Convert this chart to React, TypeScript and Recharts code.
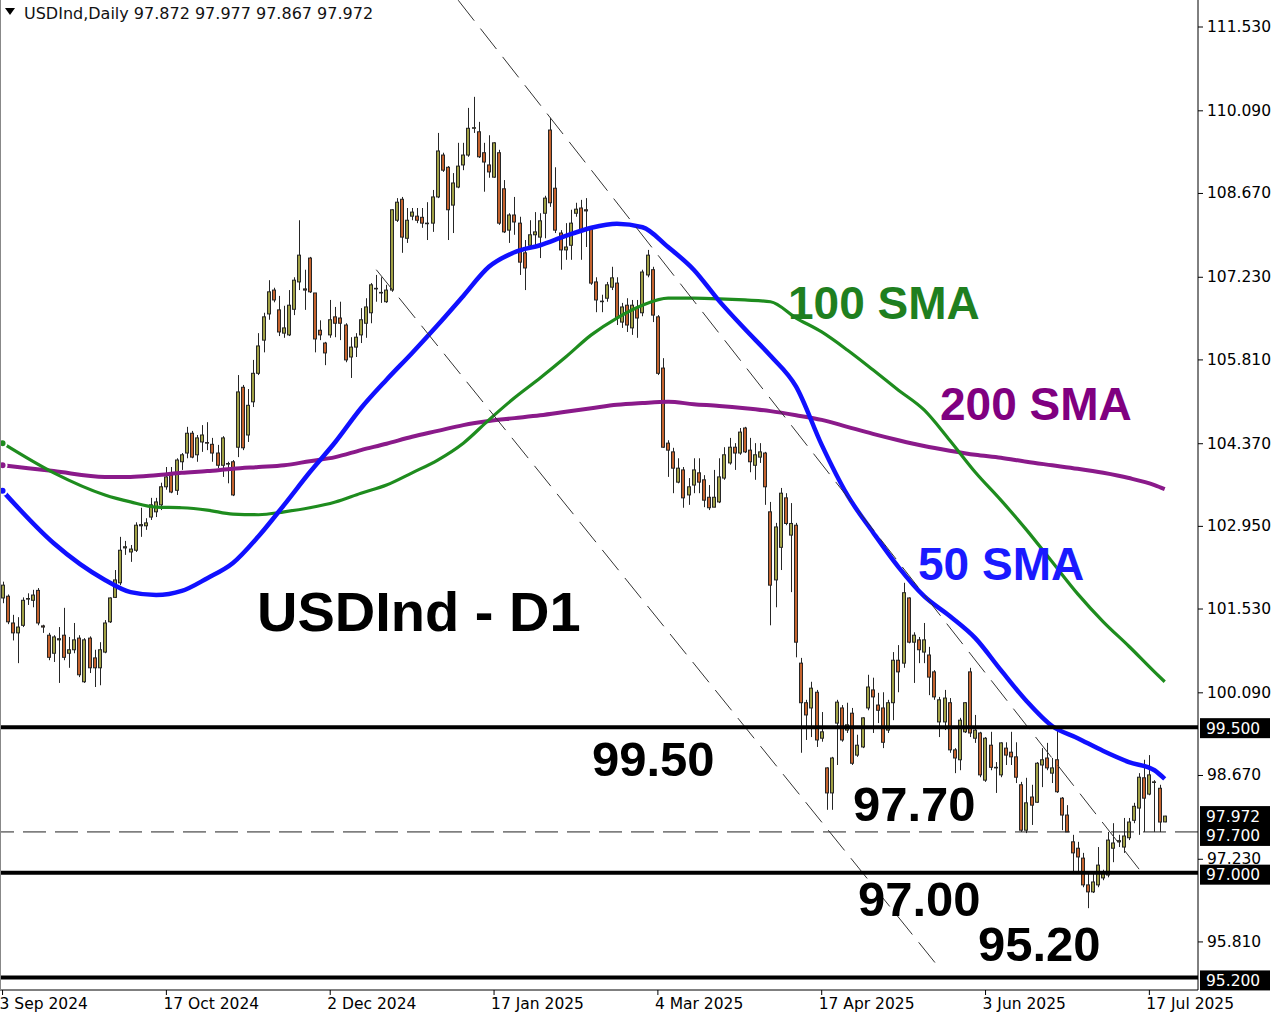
import React from "react";
import { ComposedChart, Bar, Line, XAxis, YAxis, ReferenceLine } from "recharts";

// daily candles, USDInd, 3 Sep 2024 .. 18 Jul 2025
const opens = [
  101.72, 101.75, 101.29, 101.12, 101.25, 101.7, 101.68, 101.85, 101.24, 101.08,
  100.77, 101.0, 101.08, 100.77, 100.83, 101.03, 100.28, 101.03, 100.69, 100.52,
  100.79, 101.31, 101.73, 101.98, 102.58, 102.51, 102.54, 102.96, 102.96, 103.11,
  103.2, 103.32, 103.63, 103.83, 103.57, 104.06, 104.21, 104.55, 104.18, 104.4,
  104.39, 104.36, 104.21, 104.0, 104.02, 104.06, 104.31, 105.34, 104.52, 105.09,
  105.58, 106.15, 106.6, 107.01, 106.67, 106.27, 106.24, 106.68, 107.15, 107.03,
  107.56, 106.96, 106.32, 106.1, 106.24, 106.55, 106.53, 106.41, 105.86, 106.03,
  106.24, 106.44, 106.62, 107.03, 106.97, 106.81, 107.01, 108.21, 108.57, 107.9,
  108.28, 108.28, 108.26, 108.16, 108.16, 108.61, 109.33, 109.12, 108.47, 108.78,
  109.16, 109.33, 109.79, 109.73, 109.37, 109.16, 108.95, 109.37, 108.75, 108.04,
  108.3, 108.16, 107.65, 107.78, 107.96, 107.92, 108.33, 109.76, 108.76, 107.99,
  107.7, 107.78, 108.33, 108.42, 108.39, 108.08, 107.15, 106.81, 106.87, 107.06,
  107.13, 106.46, 106.75, 106.36, 106.7, 106.62, 107.27, 107.36, 106.55, 105.67,
  104.38, 104.23, 103.71, 103.92, 103.49, 103.66, 103.87, 103.75, 103.45, 103.28,
  103.37, 103.78, 104.04, 104.31, 104.21, 104.64, 104.26, 104.0, 104.14, 104.21,
  103.2, 102.03, 102.59, 103.44, 102.8, 102.97, 100.6, 99.92, 99.83, 100.1,
  99.31, 98.8, 98.37, 99.57, 99.83, 99.45, 99.74, 99.02, 99.16, 99.83,
  100.14, 99.88, 99.83, 99.45, 99.92, 100.65, 100.6, 101.72, 100.96, 101.0,
  100.79, 100.74, 100.45, 99.59, 99.59, 99.92, 99.11, 98.94, 99.42, 100.45,
  99.31, 99.4, 98.59, 99.19, 98.81, 98.68, 99.14, 99.07, 98.99, 98.51,
  97.73, 98.3, 98.21, 98.85, 98.97, 98.71, 98.94, 98.28, 97.99, 97.53,
  97.42, 97.25, 96.79, 96.67, 96.79, 96.91, 96.96, 97.42, 97.53, 97.44,
  97.6, 97.9, 98.11, 98.63, 98.35, 98.56, 98.45, 97.872,
];
const highs = [
  102.0, 101.78, 101.43, 101.39, 101.73, 101.8, 101.86, 101.89, 101.26, 101.12,
  101.08, 101.22, 101.55, 101.05, 101.29, 101.08, 101.03, 101.06, 100.83, 100.96,
  101.34, 101.73, 102.2, 102.77, 102.7, 102.63, 103.02, 103.27, 103.09, 103.44,
  103.44, 103.7, 103.97, 103.97, 104.12, 104.21, 104.66, 104.59, 104.52, 104.69,
  104.74, 104.47, 104.35, 104.5, 104.06, 104.09, 105.55, 105.38, 105.31, 105.81,
  106.27, 106.62, 107.18, 107.05, 106.91, 106.74, 107.01, 107.23, 108.21, 107.36,
  107.58, 106.96, 106.49, 106.12, 106.84, 106.72, 106.81, 106.44, 106.2, 106.27,
  106.7, 106.87, 107.13, 107.27, 107.23, 107.1, 108.4, 108.59, 108.61, 108.42,
  108.42, 108.42, 108.42, 108.52, 108.73, 109.71, 109.37, 109.14, 109.02, 109.54,
  109.54, 110.14, 110.33, 109.9, 109.54, 109.67, 109.55, 109.42, 108.9, 108.33,
  108.61, 108.27, 107.87, 108.21, 108.35, 108.33, 108.63, 109.97, 109.12, 108.04,
  108.16, 108.39, 108.51, 108.56, 108.59, 108.09, 107.23, 106.93, 107.15, 107.41,
  107.23, 106.79, 106.87, 106.84, 106.84, 107.36, 107.7, 107.41, 106.58, 105.84,
  104.43, 104.3, 104.12, 103.97, 103.78, 104.12, 104.12, 103.83, 103.66, 103.92,
  104.12, 104.31, 104.47, 104.38, 104.64, 104.66, 104.47, 104.38, 104.38, 104.23,
  103.37, 103.01, 103.61, 103.52, 103.35, 103.01, 100.69, 99.97, 100.28, 100.14,
  99.76, 98.81, 98.99, 99.97, 99.88, 99.92, 99.83, 99.37, 99.67, 100.4,
  100.35, 100.09, 100.1, 99.97, 100.79, 100.91, 101.98, 101.73, 101.13, 101.05,
  101.29, 100.88, 100.48, 100.02, 100.14, 100.0, 99.14, 99.66, 99.93, 100.52,
  99.71, 99.42, 99.33, 99.42, 98.9, 99.24, 99.24, 99.42, 99.24, 98.56,
  98.63, 98.51, 98.9, 99.14, 99.23, 98.97, 99.5, 98.3, 98.16, 97.65,
  97.53, 97.34, 97.0, 97.01, 97.44, 97.05, 97.7, 97.85, 97.65, 97.94,
  97.94, 98.2, 98.71, 98.94, 99.02, 98.59, 98.51, 97.977,
];
const lows = [
  101.63, 101.27, 100.99, 100.6, 101.22, 101.6, 101.56, 101.25, 101.12, 100.65,
  100.62, 100.26, 100.65, 100.52, 100.77, 100.36, 100.26, 100.43, 100.19, 100.22,
  100.77, 101.29, 101.72, 101.94, 102.46, 102.34, 102.51, 102.77, 102.89, 103.06,
  103.11, 103.23, 103.58, 103.52, 103.49, 103.92, 104.12, 104.12, 104.06, 104.23,
  104.26, 104.06, 103.95, 103.8, 103.69, 103.47, 104.14, 104.26, 104.4, 105.0,
  105.55, 105.94, 106.5, 106.8, 106.22, 106.19, 106.22, 106.58, 107.01, 106.67,
  106.96, 105.94, 106.15, 105.72, 106.19, 106.2, 106.15, 105.77, 105.5, 105.86,
  106.1, 106.19, 106.44, 106.81, 106.79, 106.79, 106.98, 108.18, 107.65, 107.82,
  108.21, 108.16, 108.08, 107.87, 108.01, 108.59, 109.04, 107.87, 107.99, 108.76,
  109.07, 109.3, 109.71, 109.28, 108.7, 108.94, 108.94, 108.13, 107.99, 107.82,
  107.96, 107.27, 107.01, 107.75, 107.75, 107.56, 107.9, 108.44, 107.99, 107.36,
  107.53, 107.53, 108.27, 107.53, 107.75, 107.1, 106.63, 106.63, 106.81, 107.01,
  106.41, 106.36, 106.29, 106.24, 106.19, 106.56, 107.23, 106.46, 105.55, 104.3,
  103.8, 103.52, 103.69, 103.27, 103.32, 103.52, 103.52, 103.28, 103.23, 103.28,
  103.35, 103.75, 104.01, 103.92, 104.18, 104.21, 103.88, 103.75, 104.04, 103.32,
  101.25, 101.56, 102.2, 102.97, 101.82, 100.7, 99.06, 99.28, 99.33, 99.16,
  99.25, 98.08, 98.08, 98.85, 99.25, 99.4, 98.85, 98.99, 99.14, 99.79,
  99.4, 99.57, 99.14, 99.4, 99.62, 100.1, 100.52, 100.94, 100.26, 100.6,
  100.6, 100.05, 99.97, 99.33, 99.45, 99.06, 98.71, 98.76, 99.4, 99.33,
  99.23, 98.64, 98.56, 98.76, 98.37, 98.64, 98.85, 98.85, 98.54, 97.7,
  97.68, 97.82, 98.2, 98.47, 98.76, 98.54, 98.37, 97.73, 97.7, 97.01,
  97.01, 96.75, 96.39, 96.65, 96.75, 96.87, 96.92, 97.18, 97.44, 97.34,
  97.56, 97.85, 97.65, 97.7, 98.33, 97.7, 97.7, 97.867,
];
const closes = [
  101.94, 101.31, 101.12, 101.22, 101.68, 101.71, 101.77, 101.29, 101.22, 100.7,
  101.05, 101.02, 100.7, 100.83, 101.0, 100.4, 101.0, 100.52, 100.52, 100.83,
  101.29, 101.72, 102.03, 102.54, 102.6, 102.56, 102.97, 102.98, 103.01, 103.32,
  103.37, 103.63, 103.8, 103.54, 104.09, 104.18, 104.55, 104.14, 104.47, 104.52,
  104.38, 104.21, 104.0, 104.47, 104.03, 103.49, 105.26, 104.3, 105.03, 105.58,
  106.05, 106.55, 106.98, 106.84, 106.29, 106.36, 106.75, 107.18, 107.61, 107.01,
  106.98, 106.17, 106.24, 105.93, 106.5, 106.44, 106.44, 105.81, 106.03, 106.2,
  106.5, 106.72, 107.1, 107.04, 106.96, 107.01, 108.39, 108.52, 107.92, 108.21,
  108.35, 108.21, 108.16, 108.15, 108.61, 109.4, 109.07, 108.39, 108.85, 109.14,
  109.33, 109.79, 109.8, 109.3, 109.21, 109.04, 109.54, 108.16, 108.01, 108.3,
  108.18, 107.49, 107.39, 107.96, 108.01, 108.2, 108.59, 108.51, 108.04, 107.7,
  107.75, 108.16, 108.4, 108.04, 108.37, 107.13, 106.84, 106.82, 107.1, 107.22,
  106.53, 106.72, 106.41, 106.75, 106.53, 107.32, 107.61, 106.58, 105.58, 104.31,
  104.26, 103.95, 103.95, 103.44, 103.63, 103.92, 103.71, 103.4, 103.27, 103.45,
  103.8, 104.18, 104.31, 104.21, 104.57, 104.23, 104.06, 104.18, 104.23, 103.63,
  101.94, 102.94, 103.52, 103.0, 103.0, 100.96, 99.92, 99.71, 100.17, 99.28,
  99.42, 98.37, 98.97, 99.93, 99.28, 99.54, 98.88, 99.19, 99.66, 100.19,
  100.02, 99.79, 99.24, 99.92, 100.65, 100.45, 101.81, 100.96, 101.08, 100.83,
  101.0, 100.36, 100.02, 99.97, 100.0, 99.11, 98.97, 99.62, 99.92, 99.4,
  99.45, 98.68, 99.31, 98.81, 98.8, 99.23, 99.02, 98.99, 98.64, 97.73,
  98.2, 98.16, 98.88, 98.94, 98.8, 98.8, 98.39, 97.99, 97.7, 97.34,
  97.27, 96.79, 96.67, 96.84, 97.13, 96.99, 97.56, 97.51, 97.55, 97.63,
  97.87, 98.14, 98.64, 98.28, 98.68, 98.55, 97.87, 97.972,
];

// moving averages read at these bar numbers
const smaIdx = [
  0, 10, 20, 25, 30, 35, 40, 45, 50, 55, 60, 65, 70, 75, 80, 85, 90, 95, 100, 105,
  110, 115, 120, 125, 130, 135, 140, 145, 150, 155, 160, 165, 170, 175, 180, 185,
  190, 195, 200, 205, 210, 215, 220, 225, 227,
];
const sma50 = [
  103.56, 102.66, 102.03, 101.82, 101.77, 101.84, 102.06, 102.32, 102.78, 103.32,
  103.88, 104.4, 104.98, 105.47, 105.93, 106.41, 106.91, 107.41, 107.66, 107.78,
  107.94, 108.08, 108.15, 108.09, 107.75, 107.36, 106.82, 106.34, 105.88, 105.35,
  104.35, 103.49, 102.85, 102.25, 101.75, 101.41, 101.03, 100.48, 99.95, 99.52,
  99.31, 99.09, 98.9, 98.76, 98.61,
];
const sma100 = [
  104.38, 103.87, 103.49, 103.37, 103.28, 103.27, 103.23, 103.16, 103.15, 103.2,
  103.27, 103.37, 103.52, 103.66, 103.87, 104.09, 104.38, 104.78, 105.16, 105.5,
  105.86, 106.24, 106.53, 106.75, 106.87, 106.87, 106.86, 106.84, 106.81, 106.53,
  106.29, 105.98, 105.64, 105.29, 104.95, 104.43, 103.88, 103.4, 102.89, 102.34,
  101.79, 101.31, 100.89, 100.45, 100.28,
];
const sma200 = [
  104.0, 103.9, 103.8, 103.8, 103.83, 103.87, 103.9, 103.94, 103.97, 104.0,
  104.07, 104.14, 104.26, 104.37, 104.49, 104.59, 104.69, 104.76, 104.81, 104.86,
  104.92, 104.98, 105.04, 105.07, 105.09, 105.05, 105.02, 104.98, 104.93, 104.86,
  104.78, 104.66, 104.54, 104.43, 104.33, 104.25, 104.18, 104.13, 104.06, 104.0,
  103.94, 103.87, 103.78, 103.66, 103.59,
];

const priceTicks = [111.53, 110.09, 108.67, 107.23, 105.81, 104.37, 102.95, 101.53, 100.09, 98.67, 97.23, 95.81];
const dateLabels = ["3 Sep 2024", "17 Oct 2024", "2 Dec 2024", "17 Jan 2025", "4 Mar 2025", "17 Apr 2025", "3 Jun 2025", "17 Jul 2025"];
const dateTickIdx = [0, 32, 64, 96, 128, 160, 192, 224];

// channel lines: [bar, price] pairs
const upperChannel = [[89, 111.99], [222, 97.06]];
const lowerChannel = [[73, 107.36], [183, 95.36]];

const SLOTS = 234; // bars + empty right shift
const Y_MIN = 94.984;
const Y_MAX = 111.994;

const BULL = "#a0a044";
const BEAR = "#c4622d";
const EDGE = "#262626";
const AXIS_FONT = "DejaVu Sans, sans-serif";
const BIG_FONT = "Liberation Sans, Arial, sans-serif";

const rows = Array.from({ length: SLOTS }, (_, i) => {
  const row: any = { i };
  if (i < opens.length) {
    row.o = opens[i];
    row.h = highs[i];
    row.l = lows[i];
    row.c = closes[i];
    row.range = [lows[i], highs[i]];
  }
  const k = smaIdx.indexOf(i);
  row.sma50 = k >= 0 ? sma50[k] : null;
  row.sma100 = k >= 0 ? sma100[k] : null;
  row.sma200 = k >= 0 ? sma200[k] : null;
  return row;
});

function Candle(props: any) {
  const { x, y, width, height, payload } = props;
  if (!payload || payload.o == null || x == null) return null;
  const { o, h, l, c } = payload;
  const top = Math.min(y, y + height);
  const bot = Math.max(y, y + height);
  const span = h - l || 1;
  const py = (v: number) => top + ((h - v) / span) * (bot - top);
  const cx = Math.round(x + width / 2) + 0.5;
  const bt = py(Math.max(o, c));
  const bb = py(Math.min(o, c));
  return (
    <g>
      <line x1={cx} x2={cx} y1={top} y2={bot} stroke={EDGE} strokeWidth={1} />
      <rect
        x={cx - 2}
        y={bt}
        width={3}
        height={Math.max(bb - bt, 0.5)}
        fill={c >= o ? BULL : BEAR}
        stroke={EDGE}
        strokeWidth={1}
      />
    </g>
  );
}

function PriceTick({ x, y, payload }: any) {
  return (
    <text x={x} y={y} dy={5} fontSize={15.5} fontFamily={AXIS_FONT} fill="#000" textAnchor="start">
      {Number(payload.value).toFixed(3)}
    </text>
  );
}

function DateTick({ x, y, payload }: any) {
  const k = dateTickIdx.indexOf(payload.value);
  return (
    <text x={x - 3} y={y + 12} fontSize={15.5} fontFamily={AXIS_FONT} fill="#000" textAnchor="start">
      {k >= 0 ? dateLabels[k] : ""}
    </text>
  );
}

function PriceTag({ viewBox, text, dy = 0 }: any) {
  if (!viewBox) return null;
  const x = viewBox.x + viewBox.width + 2;
  const y = viewBox.y + dy;
  return (
    <g>
      <rect x={x} y={y - 10} width={70} height={20} fill="#000" />
      <text x={x + 6} y={y + 5.5} fill="#fff" fontSize={15.5} fontFamily={AXIS_FONT}>
        {text}
      </text>
    </g>
  );
}

function Note({ x, y, size, color, children }: any) {
  return (
    <text x={x} y={y} fontSize={size} fontWeight={700} fontFamily={BIG_FONT} fill={color}>
      {children}
    </text>
  );
}

export default function App() {
  return (
    <div style={{ position: "absolute", left: 0, top: 0, width: 1280, height: 1020, background: "#fff" }}>
      <ComposedChart
        width={1280}
        height={1020}
        data={rows}
        margin={{ top: 0, right: 0, bottom: 0, left: 0 }}
      >
        <XAxis
          dataKey="i"
          type="category"
          ticks={dateTickIdx}
          interval={0}
          height={30}
          tickSize={5}
          tickMargin={2}
          axisLine={{ stroke: "#000" }}
          tickLine={{ stroke: "#000" }}
          tick={<DateTick />}
        />
        <YAxis
          orientation="right"
          type="number"
          domain={[Y_MIN, Y_MAX]}
          allowDataOverflow
          ticks={priceTicks}
          interval={0}
          width={82}
          tickSize={5}
          tickMargin={4}
          axisLine={{ stroke: "#000" }}
          tickLine={{ stroke: "#000" }}
          tick={<PriceTick />}
        />

        <Bar dataKey="range" shape={<Candle />} isAnimationActive={false} />

        <Line dataKey="sma200" stroke="#8a1a8a" strokeWidth={4} dot={false} connectNulls type="monotone" isAnimationActive={false} />
        <Line dataKey="sma100" stroke="#1e8c1e" strokeWidth={3.2} dot={false} connectNulls type="monotone" isAnimationActive={false} />
        <Line dataKey="sma50" stroke="#1010ff" strokeWidth={4.5} dot={false} connectNulls type="monotone" isAnimationActive={false} />

        <ReferenceLine
          segment={[{ x: upperChannel[0][0], y: upperChannel[0][1] }, { x: upperChannel[1][0], y: upperChannel[1][1] }]}
          stroke="#333"
          strokeWidth={1}
          strokeDasharray="26 10"
          ifOverflow="visible"
        />
        <ReferenceLine
          segment={[{ x: lowerChannel[0][0], y: lowerChannel[0][1] }, { x: lowerChannel[1][0], y: lowerChannel[1][1] }]}
          stroke="#333"
          strokeWidth={1}
          strokeDasharray="26 10"
          ifOverflow="visible"
        />

        <ReferenceLine y={97.7} stroke="#222" strokeWidth={1} strokeDasharray="23 9" label={<PriceTag text="97.700" dy={4} />} />
        <ReferenceLine y={97.972} stroke="none" label={<PriceTag text="97.972" dy={0} />} />
        <ReferenceLine y={99.5} stroke="#000" strokeWidth={4} label={<PriceTag text="99.500" dy={1} />} />
        <ReferenceLine y={97.0} stroke="#000" strokeWidth={4} label={<PriceTag text="97.000" dy={2} />} />
        <ReferenceLine y={95.2} stroke="#000" strokeWidth={4} label={<PriceTag text="95.200" dy={3} />} />
      </ComposedChart>

      <svg
        width={1280}
        height={1020}
        style={{ position: "absolute", left: 0, top: 0, pointerEvents: "none" }}
      >
        <line x1={0.5} x2={0.5} y1={0} y2={990} stroke="#888" />
        <path d="M5 8 L15 8 L10 15 Z" fill="#000" />
        <text x={24} y={19} fontSize={16} fontFamily={AXIS_FONT} fill="#111">
          USDInd,Daily  97.872 97.977 97.867 97.972
        </text>

        <Note x={257} y={631} size={56} color="#000">USDInd - D1</Note>
        <Note x={788} y={319} size={46} color="#1f7f1f">100 SMA</Note>
        <Note x={940} y={420} size={46} color="#800080">200 SMA</Note>
        <Note x={918} y={580} size={46} color="#1a1aff">50 SMA</Note>
        <Note x={592} y={776} size={49} color="#000">99.50</Note>
        <Note x={853} y={821} size={49} color="#000">97.70</Note>
        <Note x={858} y={916} size={49} color="#000">97.00</Note>
        <Note x={978} y={961} size={49} color="#000">95.20</Note>
      </svg>
    </div>
  );
}
